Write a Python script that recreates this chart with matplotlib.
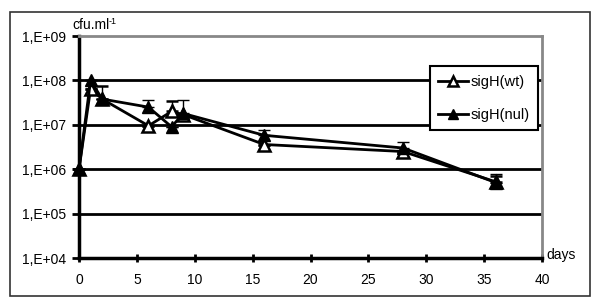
import matplotlib
matplotlib.use('Agg')
import matplotlib.pyplot as plt
from matplotlib.patches import Rectangle
from matplotlib.lines import Line2D
import numpy as np

# Données
dias = [0, 1, 2, 6, 8, 9, 16, 28, 36]
wt = [1.0e6, 6.5e7, 3.8e7, 9.5e6, 2.0e7, 1.7e7, 3.6e6, 2.5e6, 5.2e5]
wt_err = [0, 0, 3.6e7, 0, 1.4e7, 0, 0, 0, 2.0e5]
nul = [1.0e6, 1.0e8, 3.8e7, 2.5e7, 9.0e6, 1.8e7, 5.8e6, 3.0e6, 5.0e5]
nul_err = [0, 0, 0, 1.2e7, 0, 1.9e7, 1.8e6, 1.2e6, 3.0e5]

yticks = [1e4, 1e5, 1e6, 1e7, 1e8, 1e9]
ytick_labels = ['1,E+04', '1,E+05', '1,E+06', '1,E+07', '1,E+08', '1,E+09']
xticks = [0, 5, 10, 15, 20, 25, 30, 35, 40]

plt.rcParams['font.family'] = ['Liberation Sans', 'DejaVu Sans']

fig = plt.figure(figsize=(6, 3.06), dpi=100)
# Moldura externa
fig.patches.append(Rectangle((10/600, 10/306), 580/600, 284/306, transform=fig.transFigure,
                             fill=False, edgecolor='#333333', linewidth=1.2))

ax = fig.add_axes([79/600, 48/306, 463/600, 222/306])
ax.set_yscale('log')
ax.set_xlim(0, 40)
ax.set_ylim(1e4, 1e9)

# Linhas de grade
for v in yticks[1:-1]:
    ax.axhline(v, color='black', linewidth=2, zorder=1)

ax.errorbar(dias, wt, yerr=[np.zeros(len(wt_err)), wt_err], color='black', linewidth=2,
            marker='^', markersize=8, markerfacecolor='white', markeredgecolor='black',
            markeredgewidth=1.8, ecolor='black', elinewidth=1, capsize=4, capthick=1,
            zorder=3, clip_on=False)
ax.errorbar(dias, nul, yerr=[np.zeros(len(nul_err)), nul_err], color='black', linewidth=2,
            marker='^', markersize=8, markerfacecolor='black', markeredgecolor='black',
            ecolor='black', elinewidth=1, capsize=4, capthick=1,
            zorder=4, clip_on=False)

ax.set_yticks(yticks)
ax.set_yticklabels(ytick_labels)
ax.yaxis.set_minor_locator(matplotlib.ticker.NullLocator())
ax.set_xticks(xticks)
ax.tick_params(axis='y', direction='out', length=5, width=2, labelsize=10, pad=4)
ax.tick_params(axis='x', direction='inout', length=6, width=2, labelsize=10, pad=8)

ax.spines['left'].set_linewidth(2.5)
ax.spines['bottom'].set_linewidth(2.5)
ax.spines['top'].set_color('#888888')
ax.spines['top'].set_linewidth(2)
ax.spines['right'].set_color('#888888')
ax.spines['right'].set_linewidth(2)

fig.text(72/600, 1 - 25/306, 'cfu.ml', fontsize=10, ha='left', va='center')
fig.text(109/600, 1 - 21/306, '-1', fontsize=6.5, ha='left', va='center')
fig.text(546/600, 1 - 255/306, 'days', fontsize=10, ha='left', va='center')

handles = [
    Line2D([], [], color='black', linewidth=2, marker='^', markersize=7,
           markerfacecolor='white', markeredgecolor='black', markeredgewidth=1.8),
    Line2D([], [], color='black', linewidth=2, marker='^', markersize=7,
           markerfacecolor='black', markeredgecolor='black'),
]
leg = ax.legend(handles, ['sigH(wt)', 'sigH(nul)'], loc='upper right',
                bbox_to_anchor=(0.992, 0.865), frameon=True, fancybox=False,
                fontsize=10.5, handlelength=2.0, labelspacing=1.3, borderpad=0.6,
                handletextpad=0.2, borderaxespad=0.0)
leg.get_frame().set_edgecolor('black')
leg.get_frame().set_linewidth(1.5)
leg.get_frame().set_alpha(1)

plt.savefig('out.png', dpi=100)
plt.close()
